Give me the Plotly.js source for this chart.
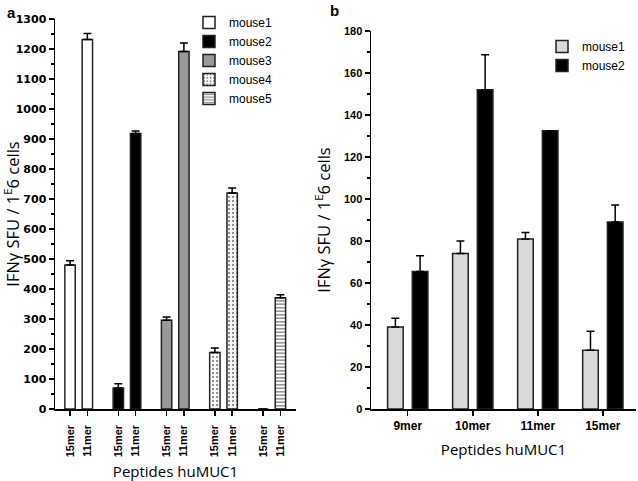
<!DOCTYPE html>
<html>
<head>
<meta charset="utf-8">
<script src="https://cdn.plot.ly/plotly-3.0.1.min.js"></script>
<style>html,body{margin:0;padding:0;background:#fff;}#chart{width:638px;height:481px;}</style>
</head>
<body>
<div id="chart"></div>
<script>
// ---- Panel a data ----
const miceA = ['mouse1', 'mouse2', 'mouse3', 'mouse4', 'mouse5'];
const peptidesA = ['15mer', '11mer'];
const mouse1A = [480, 1232];
const mouse1AErr = [14, 20];
const mouse2A = [70, 918];
const mouse2AErr = [14, 9];
const mouse3A = [296, 1192];
const mouse3AErr = [11, 28];
const mouse4A = [188, 720];
const mouse4AErr = [15, 17];
const mouse5A = [0, 371];
const mouse5AErr = [null, 10];

// ---- Panel b data ----
const miceB = ['mouse1', 'mouse2'];
const peptidesB = ['9mer', '10mer', '11mer', '15mer'];
const mouse1B = [39, 74, 81, 28];
const mouse1BErr = [4.2, 6, 3, 9];
const mouse2B = [65.5, 152, 132.5, 89];
const mouse2BErr = [7.5, 16.7, null, 8.2];

const valsA = [mouse1A, mouse2A, mouse3A, mouse4A, mouse5A];
const errsA = [mouse1AErr, mouse2AErr, mouse3AErr, mouse4AErr, mouse5AErr];

const GROUP_STEP = 2.79;
const outline = {color: '#222', width: 1.5};
const errStyle = (arr) => ({type: 'data', array: arr, arrayminus: arr.map(v => (v === null ? null : 0)), symmetric: false,
  color: '#000', thickness: 1.5, width: 4});

const stylesA = [
  {color: '#ffffff', line: outline},
  {color: '#000000', line: outline},
  {color: '#999999', line: outline},
  {color: '#9a9a9a', line: outline, pattern: {shape: '.', fillmode: 'replace', bgcolor: '#ffffff', fgcolor: '#8a8a8a', size: 4, solidity: 0.25}},
  {color: '#808080', line: outline, pattern: {shape: '-', fillmode: 'replace', bgcolor: '#ffffff', fgcolor: '#808080', size: 3.5, solidity: 0.4}}
];

const traces = [];
const tickvalsA = [];
const ticktextA = [];
miceA.forEach((m, g) => {
  const xs = peptidesA.map((p, i) => g * GROUP_STEP + i);
  xs.forEach((x, i) => { tickvalsA.push(x); ticktextA.push(peptidesA[i]); });
  traces.push({
    type: 'bar', name: m, x: xs, y: valsA[g],
    xaxis: 'x', yaxis: 'y', legend: 'legend',
    width: 0.6, offset: -0.3,
    marker: stylesA[g],
    error_y: errStyle(errsA[g]),
    hoverinfo: 'x+y'
  });
});

const valsB = [mouse1B, mouse2B];
const errsB = [mouse1BErr, mouse2BErr];
const colorsB = ['#d9d9d9', '#000000'];
const offsB = [-0.31, 0.07];
miceB.forEach((m, k) => {
  traces.push({
    type: 'bar', name: m, x: peptidesB, y: valsB[k],
    xaxis: 'x2', yaxis: 'y2', legend: 'legend2',
    width: 0.24, offset: offsB[k],
    marker: {color: colorsB[k], line: outline},
    error_y: errStyle(errsB[k])
  });
});

const W = 638, H = 481;
const tickFontA = {family: 'DejaVu Sans', size: 11, color: '#000', weight: 'bold'};
const tickFontB = {family: 'Liberation Sans, Arial', size: 11, color: '#000', weight: 'bold'};
const titleFont = {family: 'Open Sans', size: 16.5, color: '#000'};
const xTitleFont = {family: 'Open Sans', size: 15, color: '#000'};
const axisCommon = {showline: true, linecolor: '#000', linewidth: 1.5, showgrid: false, zeroline: false,
  ticks: 'outside', tickcolor: '#000', tickwidth: 1.5, ticklen: 5, fixedrange: true};

const layout = {
  width: W, height: H,
  margin: {l: 0, r: 0, t: 0, b: 0},
  paper_bgcolor: '#fff', plot_bgcolor: '#fff',
  showlegend: true,
  barmode: 'group',
  font: {family: 'Liberation Sans, Arial', color: '#000'},
  xaxis: Object.assign({}, axisCommon, {
    domain: [55 / W, 296 / W], anchor: 'y',
    range: [-0.87, 13.06], tickmode: 'array', tickvals: tickvalsA, ticktext: ticktextA,
    tickangle: -90, ticklabelstandoff: 5,
    tickfont: {family: 'Liberation Sans, Arial', size: 11, color: '#000', weight: 'bold'},
    title: {text: 'Peptides huMUC1', font: xTitleFont, standoff: 10}
  }),
  yaxis: Object.assign({}, axisCommon, {
    domain: [(H - 409) / H, (H - 19) / H], anchor: 'x',
    range: [0, 1300], dtick: 100, tickfont: tickFontA,
    minor: {dtick: 50, ticks: 'outside', ticklen: 3, tickcolor: '#000', tickwidth: 1.2, showgrid: false},
    title: {text: 'IFNγ SFU / 1<sup>E</sup>6 cells', font: titleFont, standoff: 8}
  }),
  xaxis2: Object.assign({}, axisCommon, {
    domain: [371 / W, 636 / W], anchor: 'y2',
    type: 'category', categoryorder: 'array', categoryarray: peptidesB,
    range: [-0.565, 3.51], tickfont: {family: 'Liberation Sans, Arial', size: 12, color: '#000', weight: 'bold'},
    title: {text: 'Peptides huMUC1', font: xTitleFont, standoff: 12}
  }),
  yaxis2: Object.assign({}, axisCommon, {
    domain: [(H - 409) / H, (H - 31) / H], anchor: 'x2',
    range: [0, 180], dtick: 20, tickfont: tickFontB,
    minor: {dtick: 10, ticks: 'outside', ticklen: 3, tickcolor: '#000', tickwidth: 1.2, showgrid: false},
    title: {text: 'IFNγ SFU / 1<sup>E</sup>6 cells', font: titleFont, standoff: 9}
  }),
  legend: {x: 189 / W, y: 1 - 8 / H, xanchor: 'left', yanchor: 'top',
    font: {family: 'Liberation Sans, Arial', size: 12, color: '#000'}, bgcolor: 'rgba(0,0,0,0)', traceorder: 'normal'},
  legend2: {x: 542 / W, y: 1 - 32 / H, xanchor: 'left', yanchor: 'top',
    font: {family: 'Liberation Sans, Arial', size: 12, color: '#000'}, bgcolor: 'rgba(0,0,0,0)', traceorder: 'normal'},
  annotations: [
    {text: '<b>a</b>', xref: 'paper', yref: 'paper', x: 5 / W, y: 1 - 2 / H, xanchor: 'left', yanchor: 'top',
      showarrow: false, font: {family: 'Liberation Sans, Arial', size: 15, color: '#000'}},
    {text: '<b>b</b>', xref: 'paper', yref: 'paper', x: 328 / W, y: 1 - 0 / H, xanchor: 'left', yanchor: 'top',
      showarrow: false, font: {family: 'Liberation Sans, Arial', size: 15, color: '#000'}}
  ]
};

Plotly.newPlot('chart', traces, layout, {displayModeBar: false, staticPlot: true});
</script>
</body>
</html>
